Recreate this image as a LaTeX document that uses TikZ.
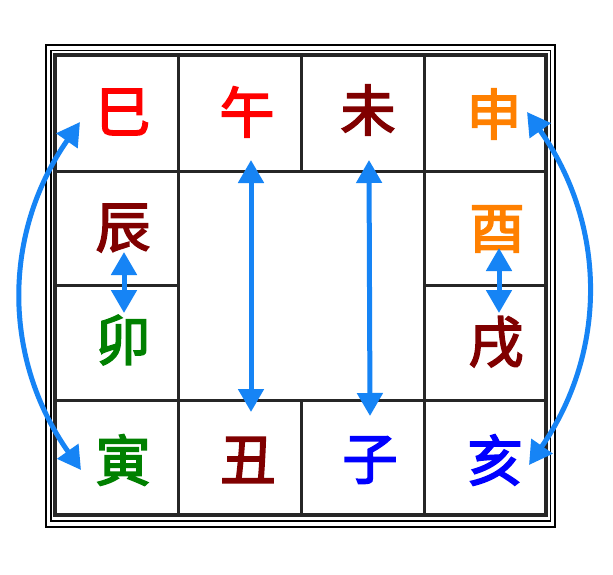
\documentclass[tikz,border=0pt]{standalone}
\usepackage{fontspec}
\newfontfamily\cjk{Noto Sans CJK SC}[FakeBold=3]
\usetikzlibrary{arrows.meta}
\definecolor{arr}{RGB}{22,132,245}
\definecolor{maroon}{RGB}{128,0,0}
\definecolor{orng}{RGB}{255,128,0}
\definecolor{grn}{RGB}{0,128,0}
\definecolor{blu}{RGB}{0,0,255}
\definecolor{rd}{RGB}{255,0,0}
\tikzset{
  ch/.style={inner sep=0pt, font=\cjk\fontsize{55}{55}\selectfont},
  gridline/.style={line width=3pt, black!85},
  dbl/.style={line width=5pt, arr, {Triangle[width=25pt,length=23pt]}-{Triangle[width=25pt,length=23pt]}},
}
\begin{document}
\begin{tikzpicture}[x=1pt,y=-1pt]
\useasboundingbox (0,0) rectangle (613,574);
\fill[white] (0,0) rectangle (613,574);
% frame
\draw[line width=1.2pt] (46,45) rectangle (555,527);
\draw[line width=1.2pt] (51,50.5) rectangle (550.5,521);
\draw[line width=3.2pt, black!85] (55,55) rectangle (546,515);
% grid
\draw[gridline] (55,171) -- (546,171);
\draw[gridline] (55,400) -- (546,400);
\draw[gridline] (55,285) -- (178,285);
\draw[gridline] (424,285) -- (546,285);
\draw[gridline] (178,55) -- (178,515);
\draw[gridline] (424,55) -- (424,515);
\draw[gridline] (301,55) -- (301,171);
\draw[gridline] (301,400) -- (301,515);
% characters
\node[ch, text=rd]     (si)   at (123,112) {巳};
\node[ch, text=rd]     (wu)   at (247,112) {午};
\node[ch, text=maroon] (wei)  at (368,110) {未};
\node[ch, text=orng]   (shen) at (494,114) {申};
\node[ch, text=maroon] (chen) at (123,228) {辰};
\node[ch, text=orng]   (you)  at (497,229) {酉};
\node[ch, text=grn]    (mao)  at (123,340) {卯};
\node[ch, text=maroon] (xu)   at (496,342) {戌};
\node[ch, text=grn]    (yin)  at (123,460) {寅};
\node[ch, text=maroon] (chou) at (248,460) {丑};
\node[ch, text=blu]    (zi)   at (370,460) {子};
\node[ch, text=blu]    (hai)  at (495,460) {亥};
% arrow end points
\coordinate (aSi)   at (80,122);
\coordinate (aYin)  at (81,470);
\coordinate (aShen) at (527,112);
\coordinate (aHai)  at (529,465);
\coordinate (aWu)   at (251,160);
\coordinate (aChou) at (251,412);
\coordinate (aWei)  at (369,160);
\coordinate (aZi)   at (370,416);
\coordinate (aChen) at (124,252);
\coordinate (aMao)  at (124,313);
\coordinate (aYou)  at (499,248);
\coordinate (aXu)   at (499,313);
% arrows
\draw[dbl] (aSi) to[bend right=35] (aYin);
\draw[dbl] (aShen) to[bend left=35] (aHai);
\draw[dbl] (aWu) -- (aChou);
\draw[dbl] (aWei) -- (aZi);
\draw[dbl] (aChen) -- (aMao);
\draw[dbl] (aYou) -- (aXu);
\end{tikzpicture}
\end{document}
